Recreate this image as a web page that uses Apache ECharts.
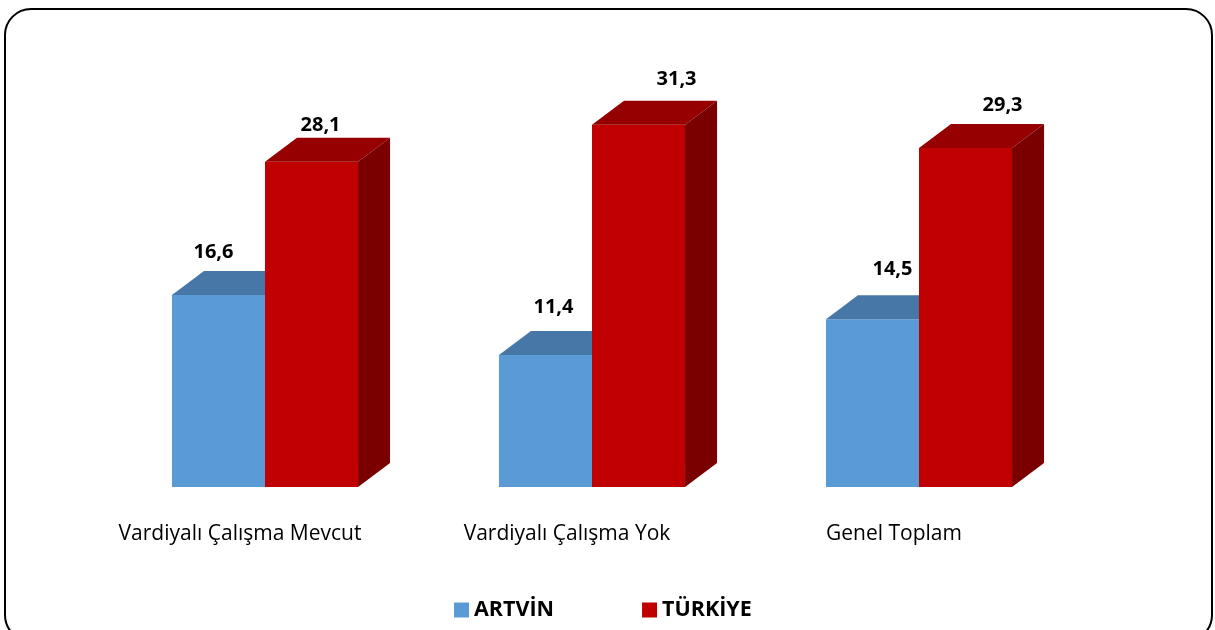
<!DOCTYPE html>
<html>
<head>
<meta charset="utf-8">
<script src="https://cdn.jsdelivr.net/npm/echarts@6/dist/echarts.min.js"></script>
<style>
  html, body { margin: 0; padding: 0; background: #fff; }
  #chart { width: 1215px; height: 630px; }
</style>
</head>
<body>
<div id="chart"></div>
<script>
const categories = ["Vardiyalı Çalışma Mevcut", "Vardiyalı Çalışma Yok", "Genel Toplam"];
const artvinValues = [16.6, 11.4, 14.5];
const turkiyeValues = [28.1, 31.3, 29.3];
const seriesNames = ["ARTVİN", "TÜRKİYE"];

const palette = [
  { front: "#5B9BD5", top: "#4677A6", side: "#3E6B96" },
  { front: "#C00000", top: "#960000", side: "#7A0000" },
];

// hand-placed value labels in the original: [dx from bar centre, dy above the back edge]
const labelNudge = [
  [[-5, 19], [8, 24], [20, 26]],
  [[9, 13], [38, 22], [37, 19]],
];

const DX = 32, DY = 24;   // depth of the 3d box

const fmt = (v) => v.toFixed(1).replace(".", ",");

function makeRender(idx) {
  const c = palette[idx];
  return function (params, api) {
    const catIdx = api.value(0);
    const val = api.value(1);
    const top = api.coord([catIdx, val]);
    const base = api.coord([catIdx, 0]);
    const band = api.size([1, 0])[0];
    const w = band * 0.2845;
    const x0 = idx === 0 ? top[0] - w : top[0];
    const x1 = x0 + w;
    const yT = top[1], yB = base[1];
    const nudge = labelNudge[idx][params.dataIndex];
    return {
      type: "group",
      children: [
        {
          type: "rect",
          shape: { x: x0, y: yT, width: w, height: yB - yT },
          style: { fill: c.front },
        },
        {
          type: "polygon",
          shape: { points: [[x0, yT], [x0 + DX, yT - DY], [x1 + DX, yT - DY], [x1, yT]] },
          style: { fill: c.top },
        },
        {
          type: "polygon",
          shape: { points: [[x1, yT], [x1 + DX, yT - DY], [x1 + DX, yB - DY], [x1, yB]] },
          style: { fill: c.side },
        },
        {
          type: "text",
          x: (x0 + x1) / 2 + nudge[0],
          y: yT - DY - nudge[1],
          style: {
            text: fmt(val),
            fill: "#000",
            font: "bold 20px 'Open Sans', sans-serif",
            align: "center",
            verticalAlign: "middle",
          },
        },
      ],
    };
  };
}

const chart = echarts.init(document.getElementById("chart"));

const option = {
  animation: false,
  backgroundColor: "#fff",
  graphic: [
    {
      type: "rect",
      shape: { x: 5, y: 9, width: 1207, height: 632, r: 26 },
      style: { fill: "none", stroke: "#000", lineWidth: 2 },
      z: 100,
    },
  ],
  grid: { left: 101.5, width: 981, top: 82, height: 405, containLabel: false },
  legend: {
    top: 594,
    left: 449,
    itemGap: 88,
    itemTextGap: 8,
    icon: "rect",
    itemWidth: 15,
    itemHeight: 15,
    textStyle: { fontFamily: "'Open Sans', sans-serif", fontSize: 21.5, fontWeight: "bold", color: "#000" },
    data: seriesNames.map((n, i) => ({ name: n, itemStyle: { color: palette[i].front } })),
  },
  xAxis: {
    type: "category",
    data: categories,
    axisLine: { show: false },
    axisTick: { show: false },
    axisLabel: {
      margin: 37,
      padding: [0, 50, 0, 0],
      fontFamily: "'Open Sans', sans-serif",
      fontSize: 21,
      color: "#000",
    },
  },
  yAxis: {
    type: "value",
    min: 0,
    max: 35,
    show: false,
    splitLine: { show: false },
  },
  series: [
    {
      name: seriesNames[0],
      type: "custom",
      renderItem: makeRender(0),
      itemStyle: { color: palette[0].front },
      encode: { x: 0, y: 1 },
      data: artvinValues.map((v, i) => [i, v]),
    },
    {
      name: seriesNames[1],
      type: "custom",
      renderItem: makeRender(1),
      itemStyle: { color: palette[1].front },
      encode: { x: 0, y: 1 },
      data: turkiyeValues.map((v, i) => [i, v]),
    },
  ],
};

chart.setOption(option);
</script>
</body>
</html>
